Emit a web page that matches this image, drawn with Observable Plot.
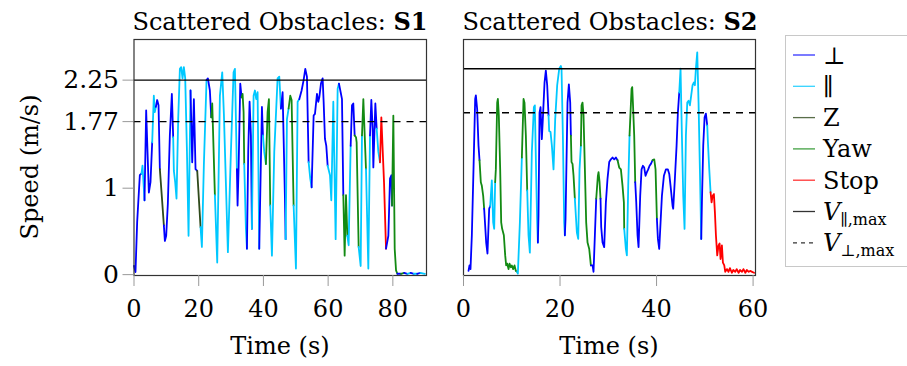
<!DOCTYPE html>
<html>
<head>
<meta charset="utf-8">
<script src="https://cdn.jsdelivr.net/npm/d3@7"></script>
<script src="https://cdn.jsdelivr.net/npm/@observablehq/plot@0.6"></script>
<style>
  body { margin: 0; background: #fff; }
  #fig { position: relative; width: 907px; height: 366px; overflow: hidden;
         font-family: "DejaVu Serif", serif; color: #000; background: #fff; }
  .txt { position: absolute; white-space: nowrap; font-size: 24px; line-height: 1;
         font-family: "DejaVu Serif", serif; }
</style>
</head>
<body>
<div id="fig"></div>
<script>
// Flight modes and their colours
const modes = ["⊥", "∥", "Z", "Yaw", "Stop"];
const modeColors = ["#0000ff", "#00c8ff", "#2f4a1c", "#138a13", "#ff0000"];
const modeKey = {B: "⊥", C: "∥", Z: "Z", Y: "Yaw", R: "Stop"};

// Speed limits (m/s)
const vParMax = 2.25;
const vPerpMax = 1.77;

// Axis ticks
const yTicks = [0, 1, 1.77, 2.25];
const s1XTicks = [0, 20, 40, 60, 80];
const s2XTicks = [0, 20, 40, 60];

// Run S1: time (s), speed (m/s), mode of the segment starting at each sample
const s1Time = [0.00,0.46,0.98,1.80,2.32,2.63,3.25,3.76,4.59,5.10,
  5.62,6.13,6.44,6.75,7.16,7.58,7.99,8.61,9.23,9.54,
  9.95,10.46,11.08,11.70,12.11,12.32,12.73,13.14,13.66,14.18,
  14.59,15.00,15.41,15.83,16.34,16.86,17.47,17.99,18.51,19.02,
  19.54,20.57,20.98,21.60,22.42,22.84,23.45,23.87,24.18,25.00,
  25.72,26.55,27.27,27.78,29.02,29.95,30.77,31.19,31.80,32.01,
  32.32,32.84,33.25,33.56,33.87,34.07,34.59,34.90,35.31,35.72,
  36.13,36.44,36.96,37.37,37.78,38.20,38.71,38.92,39.54,39.85,
  40.26,40.77,41.29,41.70,42.11,42.63,43.35,44.38,44.90,45.41,
  45.93,46.65,46.86,47.27,47.78,48.30,48.71,49.33,50.05,50.57,
  51.08,51.80,52.42,52.94,53.45,53.97,54.48,54.90,55.52,55.93,
  56.55,56.96,57.27,57.78,58.30,58.61,59.02,59.43,59.85,60.57,
  60.98,61.60,62.32,62.94,63.35,63.87,64.28,64.69,65.10,65.52,
  65.93,66.34,66.96,67.37,67.78,68.20,68.61,68.81,69.43,70.05,
  70.46,70.88,71.70,72.42,72.94,73.35,73.76,73.97,74.59,75.00,
  75.52,76.03,76.44,77.27,77.89,78.61,79.12,79.54,79.74,80.15,
  80.57,80.98,81.40,82.50,83.50,84.50,85.50,86.50,87.50,88.50,89.90];
const s1Speed = [0.10,0.03,0.61,1.15,1.17,1.26,0.86,1.90,0.95,1.07,
  1.53,2.07,1.88,1.94,2.02,1.96,1.22,0.90,0.57,0.39,
  0.45,0.82,1.61,2.09,1.59,1.20,1.07,0.88,1.80,2.38,
  2.40,2.27,2.40,2.27,1.47,0.45,2.13,1.30,2.03,1.22,
  1.20,0.55,0.32,1.28,2.25,2.27,2.13,1.82,1.98,0.92,
  0.14,2.07,2.34,1.86,0.26,1.42,2.34,2.38,1.22,0.80,
  1.22,2.21,2.05,2.09,1.88,1.28,0.53,0.30,1.44,2.00,
  1.61,0.53,2.07,2.13,2.03,2.11,0.30,0.72,1.94,1.61,
  1.42,1.28,1.88,2.03,0.80,0.22,1.42,2.27,2.29,1.92,
  2.11,0.88,0.41,1.80,1.92,2.07,2.02,0.80,0.07,2.00,
  2.03,2.13,2.25,2.38,2.29,1.30,1.11,1.01,1.84,1.86,
  2.09,2.00,2.05,2.21,2.27,2.00,1.57,1.49,1.26,1.15,
  0.86,2.00,0.41,2.15,2.21,2.11,2.03,0.92,0.22,0.92,
  0.45,0.34,1.49,1.96,1.98,1.61,1.59,1.53,0.32,0.10,
  1.61,2.03,1.22,0.07,1.61,2.02,1.69,1.24,1.98,1.69,
  1.42,1.30,1.82,1.07,0.30,0.45,1.11,1.15,0.80,1.84,
  0.30,0.05,0.01,0.01,0.02,0.01,0.02,0.01,0.01,0.02,0.01];
const s1Mode = ("BBBBCCBBBB" + "CCCBBBZZBB" + "BBBBCCCCCC" + "CCCCCCBBBB" +
  "ZCCCBBBYYC" + "CCCCCCCCBB" + "BBYYYCCBBB" + "BCCCCCBBBC" +
  "CYYYCCCCCB" + "BBCCYYYCCC" + "BBBBBCCBBB" + "BBBBBBBBCC" +
  "CCCCBBBYYY" + "CCBBBYYYCC" + "YYCCBBBBBC" + "CRRRBBBBYY" + "YYBYBCBCBCC").split("");

// Run S2
const s2Time = [1.04,1.24,1.45,1.73,2.07,2.42,2.56,2.83,3.11,3.32,
  3.59,3.80,4.08,4.28,4.70,4.97,5.32,5.53,5.87,6.15,
  6.36,6.56,6.70,6.98,7.12,7.32,7.60,7.81,8.01,8.36,
  8.64,8.84,9.05,9.33,9.53,9.81,10.02,10.29,10.57,10.85,
  11.12,11.26,11.68,12.09,12.44,12.64,12.92,13.20,13.47,13.75,
  14.16,14.58,14.78,15.06,15.27,15.41,15.54,15.75,15.96,16.23,
  16.44,16.79,17.06,17.34,17.62,17.75,18.03,18.31,18.65,19.00,
  19.41,19.83,20.17,20.31,20.59,20.86,21.00,21.14,21.55,21.83,
  22.11,22.25,22.38,22.59,22.80,23.07,23.49,23.77,24.04,24.32,
  24.46,24.66,24.87,25.15,25.42,25.70,26.05,26.39,26.74,26.94,
  27.22,27.50,27.84,27.98,28.19,28.39,28.53,28.81,29.15,29.50,
  29.84,30.19,30.54,30.88,31.23,31.57,31.92,32.26,32.61,32.95,
  33.23,33.30,33.64,33.85,34.13,34.40,34.82,34.96,35.10,35.37,
  35.58,35.79,36.06,36.27,36.61,36.89,37.17,37.44,37.72,38.00,
  38.27,38.55,38.83,39.17,39.52,39.79,40.07,40.28,40.55,40.83,
  41.11,41.52,41.93,42.35,42.63,42.90,43.32,43.45,43.80,44.15,
  44.42,44.70,44.97,45.25,45.53,45.80,46.08,46.36,46.63,46.91,
  47.18,47.46,47.74,47.94,48.15,48.43,48.70,48.98,49.26,49.40,
  49.67,49.95,50.22,50.50,50.64,50.92,51.19,51.40,51.61,51.88,
  52.09,52.30,52.57,52.85,53.06,53.26,53.54,53.75,54.03,54.23,
  54.60,54.90,55.20,55.60,55.90,56.30,56.60,57.00,57.30,57.70,
  58.00,58.40,58.70,59.10,59.40,59.80,60.20];
const s2Speed = [0.04,0.10,0.06,0.43,1.15,1.92,1.96,1.81,1.41,1.25,
  1.01,0.97,0.86,0.72,0.35,0.23,0.72,0.75,1.03,0.57,
  0.50,1.01,1.15,1.88,1.92,1.74,1.15,0.57,0.50,0.43,
  0.21,0.10,0.12,0.06,0.12,0.08,0.10,0.06,0.10,0.04,
  0.03,0.01,0.57,1.28,1.92,1.88,1.52,0.92,0.43,0.24,
  1.34,1.83,1.85,1.08,0.57,0.35,0.64,1.77,1.83,1.48,
  1.70,2.10,2.23,2.07,1.74,1.57,1.56,1.41,1.15,1.70,
  2.07,2.25,2.28,2.25,1.52,0.57,0.43,0.61,1.88,2.08,
  1.88,1.52,1.23,1.21,1.08,0.83,0.46,0.39,1.15,1.41,
  1.85,1.88,1.74,1.15,0.57,0.35,0.28,0.10,0.10,0.03,
  0.43,0.83,1.08,1.12,1.01,0.83,0.52,0.35,0.30,0.79,
  1.05,1.23,1.26,1.28,1.26,1.28,1.25,1.17,1.15,0.97,
  0.79,0.50,0.28,0.21,0.97,1.52,2.03,2.05,1.88,1.52,
  1.01,0.79,0.43,0.30,0.86,1.15,1.19,1.17,1.08,1.12,
  1.15,1.19,1.21,1.25,1.26,1.15,0.61,0.39,0.28,0.57,
  0.86,1.08,1.15,1.15,1.10,0.97,0.75,0.72,1.05,1.41,
  1.77,1.99,2.25,1.52,0.86,0.50,1.52,1.88,1.90,1.85,
  1.96,2.07,2.10,2.07,2.25,2.43,1.88,1.15,0.39,0.79,
  1.41,1.72,1.76,1.63,1.45,1.15,0.90,0.79,0.86,0.88,
  0.68,0.43,0.21,0.32,0.34,0.17,0.32,0.13,0.10,0.03,
  0.06,0.03,0.07,0.02,0.05,0.03,0.06,0.02,0.05,0.03,
  0.06,0.02,0.05,0.03,0.04,0.03,0.02];
const s2Mode = ("BBBBBBBBBY" + "YYYBBBBCCC" + "CYYYYYYYYY" + "YYYYYYYYYY" +
  "CCCYYYYCCC" + "CCCCCBBBBB" + "BBBBCCCCCC" + "CCCCCCBBBB" +
  "BYYYYCCCCY" + "YYYYYYYBBB" + "BYYYYBBBBB" + "BBBBBBYYYY" +
  "YCCCCYYYYY" + "BBBBBBBBBB" + "BBBYYYBBBB" + "BBBBBBBBBB" +
  "BCCCCCCCCC" + "CCCCCCCCBB" + "BBBCCCRRRR" + "RRRRRRRRRR" +
  "RRRRRRRRRR" + "RRRRRRR").split("");

const fig = document.getElementById("fig");

function panel({time, speed, mode, xDomain, yDomain, xTicks, showY, left, width, marginLeft, marginRight}) {
  const data = time.map((t, i) => ({t, v: speed[i], mode: modeKey[mode[i]]}));
  const chart = Plot.plot({
    width, height: 366,
    marginLeft, marginRight, marginTop: 39, marginBottom: 91,
    style: {fontFamily: "DejaVu Serif", fontSize: "24px", color: "#000", background: "transparent"},
    x: {domain: xDomain},
    y: {domain: yDomain, axis: showY ? undefined : null},
    color: {domain: modes, range: modeColors},
    marks: [
      Plot.line(data, {x: "t", y: "v", z: null, stroke: "mode", strokeWidth: 1.8,
                       strokeLinejoin: "round", strokeLinecap: "round"}),
      Plot.ruleY([vParMax], {stroke: "#000", strokeWidth: 1.4}),
      Plot.ruleY([vPerpMax], {stroke: "#000", strokeWidth: 1.4, strokeDasharray: "7,6"}),
      Plot.frame({stroke: "#333", strokeWidth: 1.2}),
      Plot.axisX({ticks: xTicks, tickSize: 11, tickPadding: 13, stroke: "#999",
                  fontSize: 24, label: null, tickFormat: d => String(d)}),
      showY ? Plot.axisY({ticks: yTicks, tickSize: 11, tickPadding: 4, stroke: "#999",
                          fontSize: 25, label: null, tickFormat: d => String(d)}) : null
    ]
  });
  chart.style.position = "absolute";
  chart.style.top = "0px";
  chart.style.left = left + "px";
  chart.style.overflow = "visible";
  fig.appendChild(chart);
}

panel({time: s1Time, speed: s1Speed, mode: s1Mode, xDomain: [0, 90.4], yDomain: [-0.01, 2.72],
       xTicks: s1XTicks, showY: true, left: 0, width: 440, marginLeft: 133.5, marginRight: 14});
panel({time: s2Time, speed: s2Speed, mode: s2Mode, xDomain: [0, 60.5], yDomain: [-0.01, 2.57],
       xTicks: s2XTicks, showY: false, left: 445, width: 320, marginLeft: 18, marginRight: 10});

// Titles and axis labels
function addText(html, x, y, rotate) {
  const d = document.createElement("div");
  d.className = "txt";
  d.innerHTML = html;
  d.style.left = x + "px";
  d.style.top = y + "px";
  d.style.transform = rotate ? "translate(-50%,-50%) rotate(-90deg)" : "translateX(-50%)";
  fig.appendChild(d);
}
addText("Scattered Obstacles: <b>S1</b>", 280, 10);
addText("Scattered Obstacles: <b>S2</b>", 610, 10);
addText("Time (s)", 280, 334);
addText("Time (s)", 609, 334);
addText("Speed (m/s)", 30, 167, true);

// Legend: a swatch and a label per entry
const legendNames = ["⊥", "∥", "Z", "Yaw", "Stop", "V", "V"];
const legendSubs = [null, null, null, null, null, "∥,max", "⊥,max"];
const legendColors = [...modeColors, "#000", "#000"];
const legendDash = [null, null, null, null, null, null, "4,4"];

const ns = "http://www.w3.org/2000/svg";
const lg = document.createElementNS(ns, "svg");
lg.setAttribute("width", 140);
lg.setAttribute("height", 232);
lg.style.position = "absolute";
lg.style.left = "785px";
lg.style.top = "35px";
lg.style.fontFamily = "DejaVu Serif";
let markup = `<rect x="0.5" y="0.5" width="160" height="231" fill="#fff" stroke="#c8c8c8"/>`;
legendNames.forEach((name, i) => {
  const y = 20 + i * 31.3;
  const dash = legendDash[i] ? ` stroke-dasharray="${legendDash[i]}"` : "";
  markup += `<line x1="8" x2="30" y1="${y}" y2="${y}" stroke="${legendColors[i]}" stroke-width="1.3" stroke-opacity="0.8"${dash}/>`;
  if (legendSubs[i]) {
    markup += `<text x="38" y="${y + 8.5}" font-size="24"><tspan font-style="italic">${name}</tspan><tspan font-size="16" dy="5">${legendSubs[i]}</tspan></text>`;
  } else {
    markup += `<text x="38" y="${y + 8.5}" font-size="24">${name}</text>`;
  }
});
lg.innerHTML = markup;
fig.appendChild(lg);
</script>
</body>
</html>
